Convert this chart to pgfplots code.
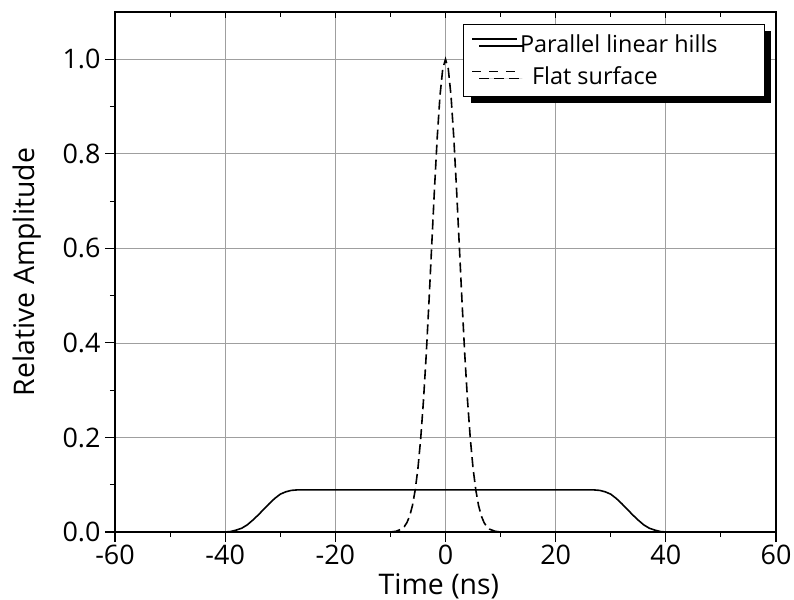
\documentclass[border=0pt]{standalone}
\usepackage{fontspec}
\setmainfont{Open Sans}
\usepackage{pgfplots}
\pgfplotsset{compat=1.18}
\usetikzlibrary{shadows}
\pgfplotsset{dashlegend/.style={legend image code/.code={\path (0bp,0bp); \draw[##1, dash pattern=on 9bp off 8bp] (0bp,5bp) -- (43bp,5bp);}}}

\begin{document}
\begin{tikzpicture}
\begin{axis}[
 scale only axis, width=661bp, height=520bp,
 xmin=-60, xmax=60, ymin=0, ymax=1.1,
 xtick={-60,-40,-20,0,20,40,60}, minor x tick num=1,
 ytick={0,0.2,0.4,0.6,0.8,1.0}, minor y tick num=1,
 grid=major, major grid style={gray!75, line width=0.7bp},
 axis line style={line width=1.4bp},
 tick style={black, line width=1.1bp},
 tick align=outside, xtick pos=left, ytick pos=left,
 major tick length=10bp, minor tick length=5bp,
 ticklabel style={font=\fontsize{27}{30}\selectfont},
 xticklabel style={yshift=1bp},
 yticklabel style={xshift=-1bp},
 /pgf/number format/assume math mode=true,
 yticklabel style={/pgf/number format/.cd, fixed, fixed zerofill, precision=1},
 label style={font=\fontsize{28.5}{32}\selectfont},
 xlabel={Time (ns)}, ylabel={Relative Amplitude},
 xlabel style={at={(axis description cs:0.49,0)}, anchor=base, yshift=-62bp},
 ylabel style={at={(axis description cs:0,0.5)}, anchor=base, rotate=0, xshift=0bp, yshift=80bp},
 legend style={at={(0.5265,0.977)}, anchor=north west, draw=black, line width=1bp, fill=white,
   font=\fontsize{23.5}{28}\selectfont,
   drop shadow={fill=black, opacity=1, shadow xshift=7bp, shadow yshift=-7bp},
   inner xsep=8bp, inner ysep=8bp, row sep=9bp},
 legend cell align=left,
 legend image code/.code={\path (0bp,0bp); \draw[#1] (0bp,5bp) -- (45bp,5bp);},
]
\addplot[black, line width=1.6bp] coordinates {
(-60,0) (-40,0) (-39,0.001) (-38,0.004) (-37,0.008) (-36,0.015) (-35,0.025) (-34,0.036) (-33,0.048) (-32,0.060) (-31,0.071) (-30,0.080) (-29,0.085) (-28,0.088) (-27,0.089) (27,0.089) (28,0.088) (29,0.085) (30,0.080) (31,0.071) (32,0.060) (33,0.048) (34,0.036) (35,0.025) (36,0.015) (37,0.008) (38,0.004) (39,0.001) (40,0) (60,0)
};
\addlegendentry{\makebox[234bp][l]{Parallel linear hills}}
\addplot[black, line width=1.6bp, dash pattern=on 10bp off 5bp, dashlegend] coordinates {
(-10,0) (-9,0.0015) (-8,0.006) (-7.5,0.011) (-7,0.020) (-6.5,0.034) (-6,0.056) (-5.5,0.089) (-5,0.135) (-4.5,0.198) (-4,0.278) (-3.5,0.375) (-3,0.487) (-2.5,0.607) (-2,0.726) (-1.5,0.835) (-1,0.923) (-0.5,0.980) (0,1.000) (0.5,0.980) (1,0.923) (1.5,0.835) (2,0.726) (2.5,0.607) (3,0.487) (3.5,0.375) (4,0.278) (4.5,0.198) (5,0.135) (5.5,0.089) (6,0.056) (6.5,0.034) (7,0.020) (7.5,0.011) (8,0.006) (9,0.0015) (10,0)
};
\addlegendentry{\hspace{12bp}Flat surface}
\end{axis}
\begin{axis}[
 scale only axis, width=661bp, height=520bp,
 xmin=-60, xmax=60, ymin=0, ymax=1.1,
 xtick={-60,-40,-20,0,20,40,60}, minor x tick num=1,
 xtick pos=right, tick align=inside, ytick=\empty, xticklabels={},
 axis line style={draw=none},
 tick style={black, line width=1.1bp},
 major tick length=6bp, minor tick length=5bp,
]
\end{axis}
\pgfresetboundingbox
\path ([shift={(-115bp,-68bp)}]current axis.south west) rectangle ([shift={(18bp,12bp)}]current axis.north east);
\end{tikzpicture}
\end{document}
